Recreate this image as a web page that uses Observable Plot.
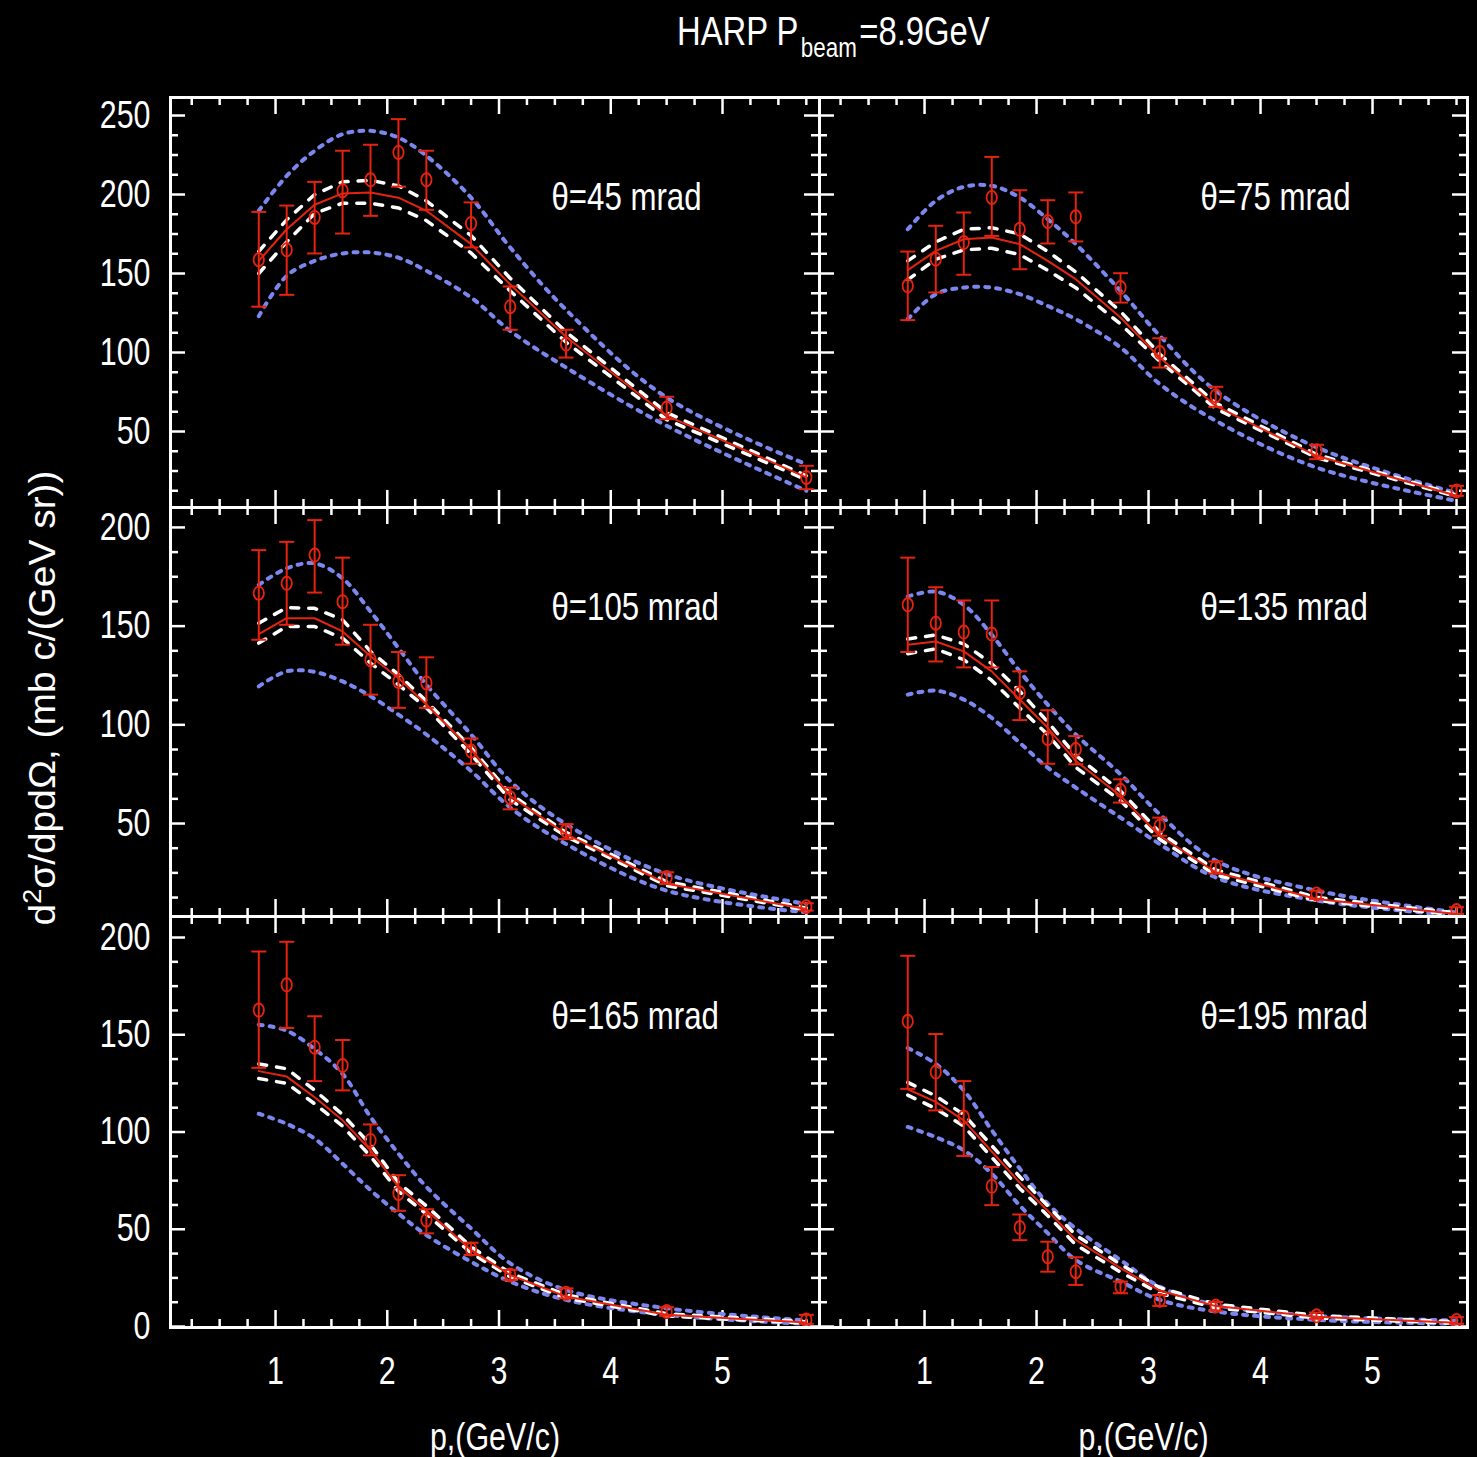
<!DOCTYPE html>
<html>
<head>
<meta charset="utf-8">
<script src="https://cdn.jsdelivr.net/npm/d3@7"></script>
<script src="https://cdn.jsdelivr.net/npm/@observablehq/plot@0.6"></script>
<style>
  html, body { margin: 0; padding: 0; background: #000; }
  #chart { position: relative; width: 1477px; height: 1457px; background: #000; overflow: hidden; }
  #chart svg { position: absolute; }
</style>
</head>
<body>
<div id="chart"></div>
<script>
// Momentum bin centres (GeV/c), shared by every angular slice
const p = [0.85, 1.1, 1.35, 1.6, 1.85, 2.1, 2.35, 2.75, 3.1, 3.6, 4.5, 5.75];

// Tick values
const xMajor = [1, 2, 3, 4, 5];
const yMajorTop = [50, 100, 150, 200, 250];
const yMajorMid = [50, 100, 150, 200];
const yMajorLow = [0, 50, 100, 150, 200];

// θ = 45 mrad
const val45 = [158.7, 165, 185.5, 202.4, 209.3, 226.6, 209.3, 181.7, 129, 105.3, 64.8, 20.9];
const hi45  = [189, 193, 208, 227.7, 231.5, 247.7, 227.7, 195, 141.8, 114.4, 72, 28.3];
const lo45  = [129, 136.5, 162.7, 175.3, 186.5, 205, 190.3, 166.5, 114.4, 96.8, 57.8, 13.5];
const fit45 = [158, 178, 193.5, 200.7, 201.3, 198, 189.7, 168.6, 143, 110, 60, 21];
const wHi45 = [164, 184, 200, 208, 209, 205.5, 196, 174, 147, 113, 62, 22];
const wLo45 = [150, 170, 188, 194.5, 194.5, 191.5, 183.5, 163, 139, 106.5, 57.5, 19.5];
const bHi45 = [189.7, 211.8, 227.7, 238.2, 240.3, 236, 224.5, 198, 166.5, 127, 71.5, 29.3];
const bLo45 = [123, 148.5, 158, 162.7, 163.3, 160, 151.7, 134.8, 113.7, 90.5, 53.6, 12.5];

// θ = 75 mrad
const val75 = [142.2, 159.1, 169.6, 198.1, 178, 182.9, 185.9, 141.1, 100, 72.6, 37.8, 12.4];
const hi75  = [163.9, 180.2, 188.6, 223.8, 202.7, 196.4, 201.3, 150.2, 109, 78.3, 41.6, 15.6];
const lo75  = [120.5, 138, 149.2, 173.8, 152.7, 169, 170.3, 131.6, 90.5, 65.6, 32.5, 9.3];
const fit75 = [152.1, 164.3, 171.7, 172.8, 168.6, 158, 146.4, 122.2, 96.8, 66.2, 34.6, 9.3];
const wHi75 = [158, 170, 178, 179, 175, 164, 151, 126, 99, 68, 35.5, 9.8];
const wLo75 = [146, 159, 165, 166, 162, 152, 141, 118, 94.5, 64.5, 33.5, 8.8];
const bHi75 = [178, 196, 204.8, 205.5, 198.1, 184.4, 168.6, 139, 110.6, 75.8, 40, 11];
const bLo75 = [121.1, 136.9, 141.1, 141.1, 136.9, 129.5, 121.1, 103.2, 80, 56.8, 27.2, 6.1];

// θ = 105 mrad
const val105 = [166.7, 171.7, 186, 162.4, 133, 122, 121.2, 86.7, 63.1, 46.3, 22.7, 7.9];
const hi105  = [188.5, 192.7, 203.7, 184.7, 150.7, 136.9, 134.2, 93.1, 68.2, 49.7, 25.3, 9.6];
const lo105  = [143.1, 150.7, 167, 140.6, 115.3, 108.6, 108.6, 80.3, 57.2, 42.1, 19.4, 5.9];
const fit105 = [146, 154, 154, 147.3, 134.7, 123.7, 110.3, 87.5, 64, 44.6, 19.5, 6.7];
const wHi105 = [151.5, 159.4, 159, 153.2, 137.2, 125.4, 112, 88.5, 65, 45.5, 20.5, 7.2];
const wLo105 = [141.4, 149.8, 149.8, 143.9, 131.3, 120.3, 108.6, 85, 62, 43.5, 18.5, 6.2];
const bHi105 = [170.9, 179.3, 181.8, 174.2, 157.4, 138.9, 120.3, 95.1, 71.5, 49.7, 24.4, 9.3];
const bLo105 = [119.5, 127.1, 126.8, 122, 114.5, 105.2, 95.1, 76.6, 58.1, 39.6, 16, 5];

// θ = 135 mrad
const val135 = [160.8, 151.5, 147, 146, 116.2, 93, 87.5, 66.8, 48.8, 27.8, 14.3, 5.9];
const hi135  = [184.7, 169.7, 163, 163, 127.1, 107.4, 94.3, 72.4, 53, 30.8, 16, 7.6];
const lo135  = [136.9, 132.1, 129.1, 129.1, 102.4, 80.3, 80, 60.6, 43.8, 24.7, 11.8, 4.2];
const fit135 = [140.6, 142.2, 137.2, 127.1, 112.8, 98.5, 81.7, 64, 43.8, 25.3, 11.8, 4.2];
const wHi135 = [143.5, 145.5, 141, 131, 117, 101.5, 84.5, 66.5, 45.5, 26.5, 12.6, 4.7];
const wLo135 = [136, 138.5, 133, 122.5, 108.5, 95, 78.5, 61.5, 42, 24, 11, 3.7];
const bHi135 = [165, 167.5, 160.8, 145.6, 127.1, 110.2, 95.1, 74.9, 54.7, 31.2, 16, 5];
const bLo135 = [115.3, 117.3, 112.8, 103.5, 90.9, 78.3, 68.2, 53, 39.6, 22.7, 11, 3.4];

// θ = 165 mrad
const val165 = [162.7, 175.7, 143.6, 134.2, 95.7, 68.4, 54.7, 39.8, 26.5, 17.1, 7.7, 3.4];
const hi165  = [192.8, 197.8, 159.5, 147.3, 103.9, 77.8, 60.3, 43.1, 29.1, 19.6, 9.9, 6];
const lo165  = [133, 153.5, 126.2, 121.4, 88, 59.5, 47.9, 36.8, 23.9, 14.5, 5.5, 1.4];
const fit165 = [131.3, 128.5, 117.9, 106, 90.6, 71.8, 59.8, 39.3, 26.5, 15.4, 6, 2.1];
const wHi165 = [135, 132.5, 121.5, 109, 93.5, 74, 62, 41, 27.5, 16.2, 6.6, 2.5];
const wLo165 = [127.5, 125, 114.5, 103, 87.5, 69.5, 57.8, 37.8, 25.5, 14.6, 5.4, 1.7];
const bHi165 = [155.2, 152.1, 142.7, 129.9, 107.7, 88.9, 71.8, 50.4, 32.5, 18.8, 9.4, 3.1];
const bLo165 = [109.4, 104.2, 96.6, 83.7, 70.1, 58.1, 47, 33.3, 23.1, 13.7, 6, 1.4];

// θ = 195 mrad
const val195 = [156.9, 130.8, 107.7, 72.1, 50.9, 35.9, 28.2, 20.5, 13.5, 10.5, 5.5, 3.1];
const hi195  = [190.6, 150.4, 126.2, 82, 57.6, 43.6, 35.6, 23.1, 16.2, 12.6, 7.2, 4.8];
const lo195  = [122.2, 111.1, 87.7, 62.4, 44.4, 28.2, 21.4, 17.1, 10.6, 8.2, 4, 1.4];
const fit195 = [122, 115.5, 106, 90, 74, 59.5, 44.5, 30, 18.5, 10.5, 5, 2];
const wHi195 = [125.5, 118.5, 109, 93, 77, 62, 47, 32, 20, 11.5, 5.7, 2.4];
const wLo195 = [119, 112, 103, 87, 71, 57, 42, 28, 17, 9.6, 4.4, 1.6];
const bHi195 = [143.2, 135, 121.4, 100.9, 81.2, 63.2, 50.4, 34.2, 20.5, 11.1, 5.5, 3.1];
const bLo195 = [102.6, 97.4, 90.6, 78.6, 62.2, 48, 34.2, 23.1, 13.7, 7.7, 3.4, 1.4];

// Title pieces: main text, subscript, remainder
const titleParts = ["HARP P", "beam", "=8.9GeV"];
const yLabelMain = "σ/dpdΩ, (mb c/(GeV sr))";

// ---- layout ----
const RED = "#e6230f", BLUE = "#7c86ef", WHITE = "#ffffff";
const SANS = "'Liberation Sans', Arial, Helvetica, sans-serif";
const NARROW_FACTOR = 0.8; // squeeze Liberation Sans toward a narrow Helvetica
const colLeft = [170, 819], colRight = [819, 1467];
const rowTop = [97, 507, 916], rowBottom = [507, 916, 1327];
const xDomains = [[0.06, 5.868], [0.062, 5.848]];
const yDomains = [[1.9, 261.4], [2.9, 210.1], [-0.5, 210.8]];
const yMajorByRow = [yMajorTop, yMajorMid, yMajorLow];

const panels = [
  {angle: 45,  row: 0, col: 0, val: val45,  hi: hi45,  lo: lo45,  fit: fit45,  wHi: wHi45,  wLo: wLo45,  bHi: bHi45,  bLo: bLo45},
  {angle: 75,  row: 0, col: 1, val: val75,  hi: hi75,  lo: lo75,  fit: fit75,  wHi: wHi75,  wLo: wLo75,  bHi: bHi75,  bLo: bLo75},
  {angle: 105, row: 1, col: 0, val: val105, hi: hi105, lo: lo105, fit: fit105, wHi: wHi105, wLo: wLo105, bHi: bHi105, bLo: bLo105},
  {angle: 135, row: 1, col: 1, val: val135, hi: hi135, lo: lo135, fit: fit135, wHi: wHi135, wLo: wLo135, bHi: bHi135, bLo: bLo135},
  {angle: 165, row: 2, col: 0, val: val165, hi: hi165, lo: lo165, fit: fit165, wHi: wHi165, wLo: wLo165, bHi: bHi165, bLo: bLo165},
  {angle: 195, row: 2, col: 1, val: val195, hi: hi195, lo: lo195, fit: fit195, wHi: wHi195, wLo: wLo195, bHi: bHi195, bLo: bLo195}
];

// Error-bar caps: a horizontal stroke of half-width r
const capSymbol = {
  draw(ctx, size) {
    const r = Math.sqrt(size / Math.PI);
    ctx.moveTo(-r, 0); ctx.lineTo(r, 0);
  }
};
// Data marker: an upright open oval
const ovalSymbol = {
  draw(ctx, size) {
    const r = Math.sqrt(size / Math.PI), rx = r * 0.86, ry = r * 1.1, k = 0.5523;
    ctx.moveTo(rx, 0);
    ctx.bezierCurveTo(rx, ry * k, rx * k, ry, 0, ry);
    ctx.bezierCurveTo(-rx * k, ry, -rx, ry * k, -rx, 0);
    ctx.bezierCurveTo(-rx, -ry * k, -rx * k, -ry, 0, -ry);
    ctx.bezierCurveTo(rx * k, -ry, rx, -ry * k, rx, 0);
    ctx.closePath();
  }
};

// Horizontally compress every text element of an attached svg
function condense(root, factor) {
  root.querySelectorAll("text").forEach(el => {
    const len = el.getComputedTextLength();
    if (len > 0) {
      el.setAttribute("textLength", (len * factor).toFixed(1));
      el.setAttribute("lengthAdjust", "spacingAndGlyphs");
    }
  });
}

const chart = document.getElementById("chart");

function drawPanel(cfg) {
  const {row, col} = cfg;
  const w = colRight[col] - colLeft[col];
  const h = rowBottom[row] - rowTop[row];
  const ml = col === 0 ? 170 : 4, mr = 4, mt = 4, mb = row === 2 ? 134 : 4;
  const xd = xDomains[col], yd = yDomains[row];
  const inX = v => v >= xd[0] && v <= xd[1];
  const inY = v => v >= yd[0] && v <= yd[1];

  const xMinor = d3.range(0.25, 6, 0.25).filter(v => inX(v) && !xMajor.includes(v));
  const yMinor = d3.range(0, 275, 12.5).filter(v => inY(v) && v % 50 !== 0);
  const yMajorAll = d3.range(0, 275, 50).filter(inY);

  const pts = p.map((x, i) => ({p: x, v: cfg.val[i], hi: cfg.hi[i], lo: cfg.lo[i]}));
  const series = arr => p.map((x, i) => ({p: x, v: arr[i]}));

  const tick = {stroke: WHITE, strokeWidth: 2.5};
  const dotted = {x: "p", y: "v", stroke: BLUE, strokeWidth: 4, strokeDasharray: "4,7", curve: "catmull-rom"};
  const dashed = {x: "p", y: "v", stroke: WHITE, strokeWidth: 3.5, strokeDasharray: "8,10"};
  const marks = [
    // inward ticks on all four sides
    Plot.ruleX(xMajor, {...tick, insetTop: h - 17}),
    Plot.ruleX(xMajor, {...tick, insetBottom: h - 17}),
    Plot.ruleX(xMinor, {...tick, insetTop: h - 8}),
    Plot.ruleX(xMinor, {...tick, insetBottom: h - 8}),
    Plot.ruleY(yMajorAll, {...tick, insetRight: w - 15}),
    Plot.ruleY(yMajorAll, {...tick, insetLeft: w - 15}),
    Plot.ruleY(yMinor, {...tick, insetRight: w - 8}),
    Plot.ruleY(yMinor, {...tick, insetLeft: w - 8}),

    // model band (dotted) and fit uncertainty (dashed)
    Plot.line(series(cfg.bHi), dotted),
    Plot.line(series(cfg.bLo), dotted),
    Plot.line(series(cfg.wHi), dashed),
    Plot.line(series(cfg.wLo), dashed),
    // central fit
    Plot.line(series(cfg.fit), {x: "p", y: "v", stroke: RED, strokeWidth: 2}),

    // measurements with error bars
    Plot.ruleX(pts, {x: "p", y1: "lo", y2: "hi", stroke: RED, strokeWidth: 2}),
    Plot.dot(pts, {x: "p", y: "hi", symbol: capSymbol, r: 7.5, stroke: RED, fill: "none", strokeWidth: 2}),
    Plot.dot(pts, {x: "p", y: "lo", symbol: capSymbol, r: 7.5, stroke: RED, fill: "none", strokeWidth: 2}),
    Plot.dot(pts, {x: "p", y: "v", symbol: ovalSymbol, r: 6, stroke: RED, fill: "none", strokeWidth: 1.8}),

    Plot.frame({stroke: WHITE, strokeWidth: 3}),

    Plot.text([`θ=${cfg.angle} mrad`], {
      text: d => d, frameAnchor: "top-left", dx: 381, dy: 112,
      lineAnchor: "bottom", textAnchor: "start", fill: WHITE, fontSize: 39
    })
  ];

  if (col === 0) {
    marks.push(Plot.axisY(yMajorByRow[row].filter(inY), {
      anchor: "left", tickSize: 0, tickPadding: 20, label: null, fontSize: 38, fill: WHITE
    }));
  }
  if (row === 2) {
    marks.push(Plot.axisX(xMajor, {
      anchor: "bottom", tickSize: 0, tickPadding: 30, label: null, fontSize: 38, fill: WHITE
    }));
    marks.push(Plot.text(["p,(GeV/c)"], {
      text: d => d, frameAnchor: "bottom", dy: 122, lineAnchor: "bottom", fill: WHITE, fontSize: 38
    }));
  }

  const svg = Plot.plot({
    width: w + ml + mr,
    height: h + mt + mb,
    marginLeft: ml, marginRight: mr, marginTop: mt, marginBottom: mb,
    x: {domain: xd, axis: null},
    y: {domain: yd, axis: null},
    style: {background: "transparent", color: WHITE, fontFamily: SANS, fontSize: "38px"},
    marks
  });
  svg.style.left = (colLeft[col] - ml) + "px";
  svg.style.top = (rowTop[row] - mt) + "px";
  chart.appendChild(svg);
  condense(svg, NARROW_FACTOR);
}

panels.forEach(drawPanel);

// Title and shared y-axis label
const over = d3.select(chart).append("svg")
  .attr("width", 1477).attr("height", 1457)
  .style("left", "0px").style("top", "0px");

// Title: three pieces in a horizontally squeezed group, the middle one as a subscript
const titleStyle = [
  {size: 41, y: 45},
  {size: 28, y: 57},
  {size: 41, y: 45}
];
const titleG = over.append("g")
  .attr("transform", `translate(677,0) scale(${NARROW_FACTOR},1)`);
let tx = 0;
titleParts.forEach((s, i) => {
  const t = titleG.append("text")
    .attr("x", tx).attr("y", titleStyle[i].y)
    .attr("fill", WHITE)
    .style("font-family", SANS)
    .style("font-size", titleStyle[i].size + "px")
    .text(s);
  tx += t.node().getComputedTextLength() + 3;
});

const ylab = over.append("text")
  .attr("transform", "translate(55,698) rotate(-90)")
  .attr("text-anchor", "middle")
  .attr("fill", WHITE)
  .style("font-family", SANS)
  .style("font-size", "36px");
ylab.append("tspan").text("d");
ylab.append("tspan").attr("dy", -14).style("font-size", "25px").text("2");
ylab.append("tspan").attr("dy", 14).text(yLabelMain);
ylab.attr("textLength", 455).attr("lengthAdjust", "spacingAndGlyphs");
</script>
</body>
</html>
